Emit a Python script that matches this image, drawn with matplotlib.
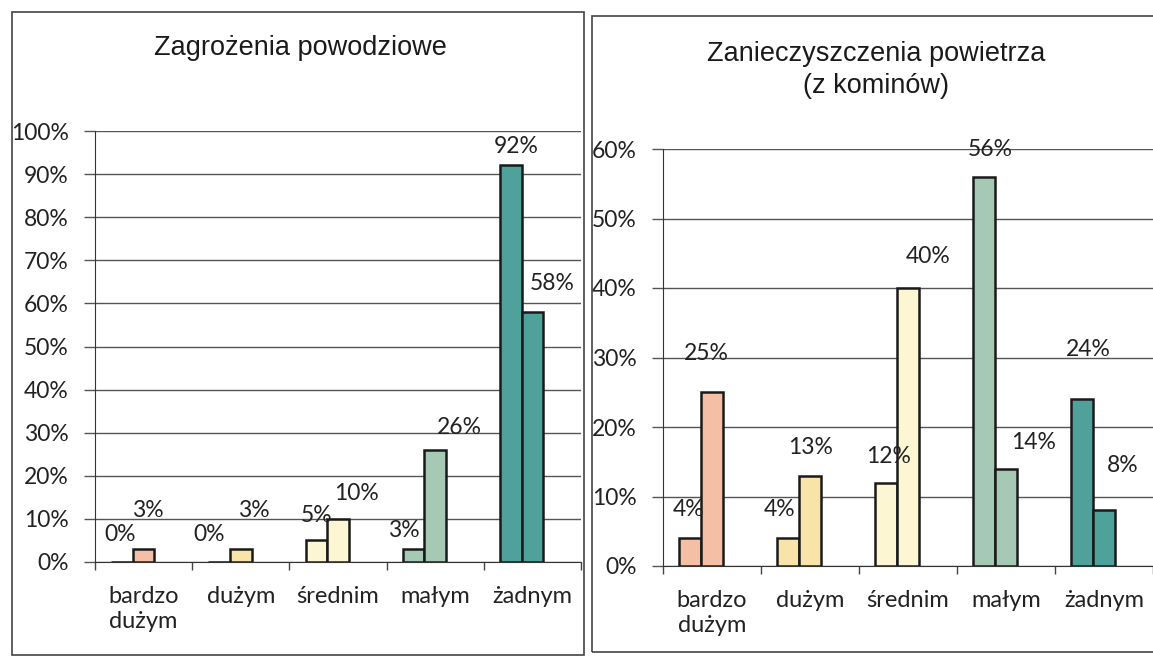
import numpy as np
import matplotlib.pyplot as plt
from matplotlib.patches import Rectangle
from matplotlib.ticker import PercentFormatter

kategorie = ["bardzo\ndużym", "dużym", "średnim", "małym", "żadnym"]
kolory = ["#f5bfa6", "#f8e4a8", "#fcf6d2", "#a6c9b6", "#4fa29b"]

# Zagrożenia powodziowe
powodz_a = [0, 0, 5, 3, 92]
powodz_b = [3, 3, 10, 26, 58]
# Zanieczyszczenia powietrza (z kominów)
powietrze_a = [4, 4, 12, 56, 24]
powietrze_b = [25, 13, 40, 14, 8]

# przesuniecia etykiet (dx w kategoriach, dy w punktach procentowych)
etyk_powodz_a = [(-0.02, 6.3), (-0.10, 6.3), (0.0, 5.9), (-0.10, 4.4), (0.06, 4.3)]
etyk_powodz_b = [(0.04, 9.0), (0.13, 9.0), (0.19, 5.8), (0.25, 5.3), (0.20, 6.7)]
etyk_powietrze_a = [(-0.02, 4.1), (-0.09, 4.2), (0.02, 3.8), (0.06, 3.9), (0.06, 7.1)]
etyk_powietrze_b = [(-0.06, 5.6), (0.01, 4.1), (0.21, 4.6), (0.28, 3.7), (0.19, 6.5)]

W, H = 1153, 659
fig = plt.figure(figsize=(W / 100, H / 100), dpi=100)
fig.patch.set_facecolor("white")

font = ["Lato", "DejaVu Sans"]
szer = 0.222


def wykres(px, ymax, krok, a, b, etyk_a, etyk_b):
    ax = fig.add_axes([px[0] / W, 1 - px[3] / H, (px[1] - px[0]) / W, (px[3] - px[2]) / H])
    x = np.arange(len(kategorie))
    ax.bar(x - szer, a, szer, color=[kolory[i] for i in x], edgecolor="#1a1a1a", lw=1.8, zorder=3)
    ax.bar(x, b, szer, color=[kolory[i] for i in x], edgecolor="#1a1a1a", lw=1.8, zorder=3)
    for i in x:
        ax.text(i - szer + etyk_a[i][0], a[i] + etyk_a[i][1], f"{a[i]}%", ha="center", va="center",
                fontsize=16.5, family=font, color="#222222", zorder=4)
        ax.text(i + etyk_b[i][0], b[i] + etyk_b[i][1], f"{b[i]}%", ha="center", va="center",
                fontsize=16.5, family=font, color="#222222", zorder=4)
    ax.set_xlim(-0.5, len(kategorie) - 0.5)
    ax.set_ylim(0, ymax)
    ax.set_yticks(np.arange(0, ymax + 0.1, krok))
    ax.yaxis.set_major_formatter(PercentFormatter(decimals=0))
    ax.grid(axis="y", color="#555555", lw=1.0, zorder=0)
    ax.set_xticks(x)
    ax.set_xticklabels(kategorie, family=font, fontsize=17, linespacing=1.25, color="#222222")
    ax.set_xticks(np.arange(-0.5, len(kategorie)), minor=True)
    ax.tick_params(axis="x", which="major", length=0, pad=17)
    ax.tick_params(axis="x", which="minor", length=6, width=1, color="#444444")
    ax.tick_params(axis="y", length=8, width=1, color="#555555", pad=11)
    for t in ax.get_yticklabels():
        t.set_family(font)
        t.set_fontsize(16.5)
        t.set_color("#222222")
    for s in ["top", "right"]:
        ax.spines[s].set_visible(False)
    ax.spines["left"].set_color("#333333")
    ax.spines["bottom"].set_color("#333333")
    return ax


wykres((95, 581, 131, 562), 100, 10, powodz_a, powodz_b, etyk_powodz_a, etyk_powodz_b)
wykres((663, 1153, 149, 566), 60, 10, powietrze_a, powietrze_b, etyk_powietrze_a, etyk_powietrze_b)

fig.text(300 / W, 1 - 48 / H, "Zagrożenia powodziowe", ha="center", va="center",
         fontsize=19.5, family="Liberation Sans", color="#1a1a1a")
fig.text(876 / W, 1 - 70 / H, "Zanieczyszczenia powietrza\n(z kominów)", ha="center", va="center",
         fontsize=19.5, family="Liberation Sans", color="#1a1a1a", linespacing=1.3)

# ramki obu wykresow
fig.patches.append(Rectangle((12 / W, 1 - 655 / H), (584 - 12) / W, (655 - 12) / H,
                             transform=fig.transFigure, fill=False, ec="#444444", lw=1.2))
fig.patches.append(Rectangle((592 / W, 1 - 652 / H), (1170 - 592) / W, (652 - 16) / H,
                             transform=fig.transFigure, fill=False, ec="#444444", lw=1.2,
                             clip_on=False))

plt.savefig("out.png", dpi=100)
